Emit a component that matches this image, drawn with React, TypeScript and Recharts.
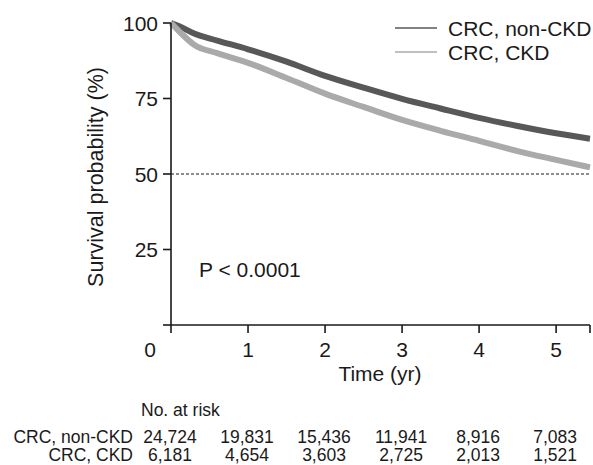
import React from 'react';
import { LineChart, Line, XAxis, YAxis, ReferenceLine, Customized } from 'recharts';

const TIMES = [0, 0.1, 0.3, 0.6, 1, 1.5, 2, 2.5, 3, 3.5, 4, 4.5, 5, 5.44];
const NON_CKD = [100, 99, 96.5, 94.2, 91.3, 87.2, 82.5, 78.6, 74.9, 71.7, 68.6, 65.9, 63.5, 61.7];
const CKD = [100, 97.4, 92.8, 90, 86.8, 81.8, 76.6, 72.2, 67.9, 64.3, 61, 57.6, 54.7, 52.2];

const X_TICKS = [0, 1, 2, 3, 4, 5, 5.44];
const X_LABELS = ['0', '1', '2', '3', '4', '5', ''];
const Y_TICKS = [0, 25, 50, 75, 100];
const RISK_NON_CKD = ['24,724', '19,831', '15,436', '11,941', '8,916', '7,083', ''];
const RISK_CKD = ['6,181', '4,654', '3,603', '2,725', '2,013', '1,521', ''];

const SERIES = [
  { key: 'nonCkd', name: 'CRC, non-CKD', color: '#585858' },
  { key: 'ckd', name: 'CRC, CKD', color: '#aaaaaa' },
];

const data = TIMES.map((t, i) => ({ t, nonCkd: NON_CKD[i], ckd: CKD[i] }));

const FONT = '"Liberation Sans", Arial, Helvetica, sans-serif';
const TABLE_FS = 17.5;

const XTick = (props: any) => {
  const { x, y, payload } = props;
  const idx = X_TICKS.indexOf(payload.value);
  if (idx < 0 || X_LABELS[idx] === '') return null;
  const lx = payload.value === 0 ? x - 21 : x;
  return (
    <g fontFamily={FONT} fill="#1a1a1a">
      <text x={lx} y={y + 24} textAnchor="middle" fontSize={21}>{X_LABELS[idx]}</text>
      <text x={x - 1} y={y + 110} textAnchor="middle" fontSize={TABLE_FS}>{RISK_NON_CKD[idx]}</text>
      <text x={x - 1} y={y + 128} textAnchor="middle" fontSize={TABLE_FS}>{RISK_CKD[idx]}</text>
    </g>
  );
};

const YTick = (props: any) => {
  const { x, y, payload } = props;
  if (payload.value === 0) return null;
  return (
    <text x={x} y={y} dy={7.5} textAnchor="end" fontSize={21} fontFamily={FONT} fill="#1a1a1a">
      {payload.value}
    </text>
  );
};

const Extras = () => (
  <g fontFamily={FONT} fill="#1a1a1a">
    {SERIES.map((s, i) => (
      <g key={s.key}>
        <line x1={395} x2={437} y1={28 + i * 24} y2={28 + i * 24} stroke={s.color} strokeWidth={1.6} />
        <text x={448} y={28 + i * 24 + 7.5} fontSize={21}>{s.name}</text>
      </g>
    ))}
    <text x={199} y={277} fontSize={21}>P {'<'} 0.0001</text>
    <text x={380} y={381} fontSize={21} textAnchor="middle">Time (yr)</text>
    <text x={96} y={177} fontSize={21.5} textAnchor="middle" dominantBaseline="central" transform="rotate(-90 96 177)">
      Survival probability (%)
    </text>
    <text x={141} y={416} fontSize={TABLE_FS}>No. at risk</text>
    <text x={133} y={443} fontSize={TABLE_FS} textAnchor="end">CRC, non-CKD</text>
    <text x={133} y={461} fontSize={TABLE_FS} textAnchor="end">CRC, CKD</text>
  </g>
);

export default function App() {
  return (
    <div style={{ position: 'absolute', left: 0, top: 0, width: 593, height: 465, background: '#fff' }}>
      <LineChart width={593} height={465} data={data} margin={{ top: 23, right: 3, bottom: 0, left: 0 }}>
        <XAxis
          dataKey="t"
          type="number"
          domain={[0, 5.44]}
          ticks={X_TICKS}
          tick={<XTick />}
          tickSize={8}
          tickMargin={0}
          height={140}
          axisLine={{ stroke: '#1a1a1a', strokeWidth: 1.6 }}
          tickLine={{ stroke: '#1a1a1a', strokeWidth: 1.6 }}
          interval={0}
        />
        <YAxis
          type="number"
          domain={[0, 100]}
          ticks={Y_TICKS}
          tick={<YTick />}
          tickSize={8}
          tickMargin={5}
          width={171}
          axisLine={{ stroke: '#1a1a1a', strokeWidth: 1.6 }}
          tickLine={{ stroke: '#1a1a1a', strokeWidth: 1.6 }}
          interval={0}
        />
        <ReferenceLine y={50} stroke="#1a1a1a" strokeWidth={1} strokeDasharray="3 2" />
        {SERIES.map((s) => (
          <Line
            key={s.key}
            dataKey={s.key}
            name={s.name}
            stroke={s.color}
            strokeWidth={6}
            type="monotone"
            dot={false}
            isAnimationActive={false}
          />
        ))}
        <Customized component={<Extras />} />
      </LineChart>
    </div>
  );
}
